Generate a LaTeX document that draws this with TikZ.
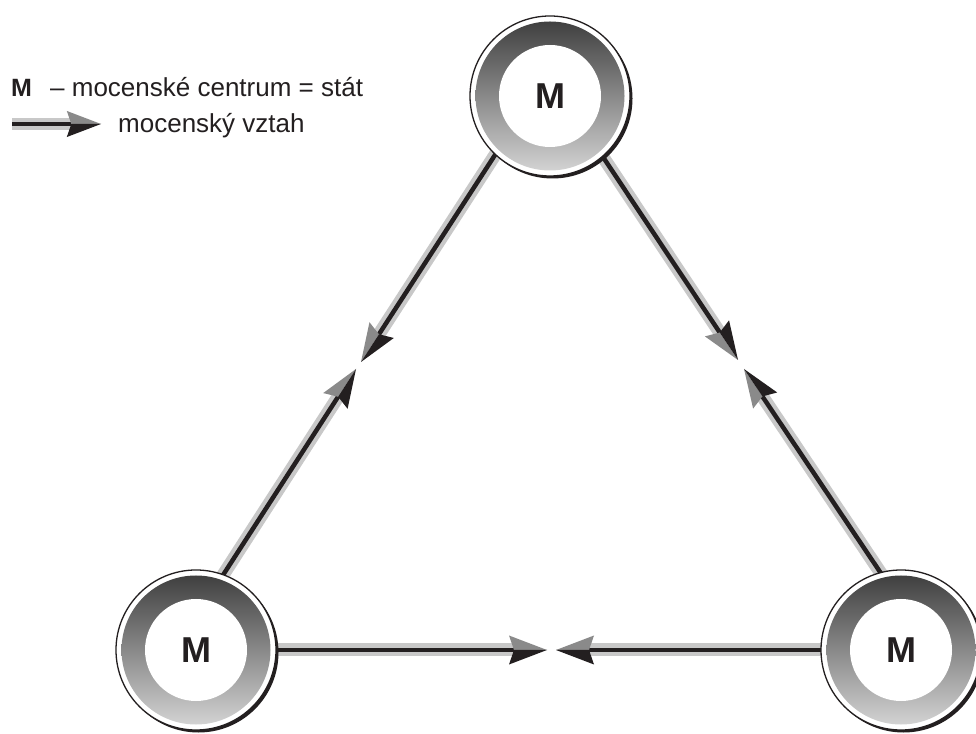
\documentclass[tikz,border=0pt]{standalone}
\usepackage{fontspec}
\setmainfont{Liberation Sans}
\usetikzlibrary{calc,shadows,backgrounds}
\definecolor{ink}{HTML}{231F20}
\definecolor{band}{HTML}{C8C8C8}
\definecolor{headgrey}{HTML}{8A8A8A}
\definecolor{ringtop}{HTML}{3A3A3A}
\definecolor{ringbot}{HTML}{D8D8D8}
% #1 start, #2 tip, #3 grey-side angle, #4 black-side angle, #5 size factor, #6 extension behind start (pt)
\newcommand\relarrow[6]{%
  \pgfmathsetmacro\hl{38*#5}%
  \pgfmathsetmacro\hn{33*#5}%
  \pgfmathsetmacro\hw{14.5*#5}%
  \pgfmathsetmacro\bw{13*#5}%
  \pgfmathsetmacro\lw{4.5*#5}%
  \coordinate (rb) at ($(#2)!\hl pt!(#1)$);
  \coordinate (rn) at ($(#2)!\hn pt!(#1)$);
  \coordinate (rg) at ($(rb)!\hw pt!#3:(#2)$);
  \coordinate (rk) at ($(rb)!\hw pt!#4:(#2)$);
  \draw[band, line width=\bw pt, shorten <=-#6pt] (#1) -- (rn);
  \draw[ink, line width=\lw pt, shorten <=-#6pt] (#1) -- (rn);
  \fill[headgrey] (rg) -- (#2) -- (rn) -- cycle;
  \fill[ink] (rk) -- (#2) -- (rn) -- cycle;
}
\tikzset{
  mnode/.style={circle, minimum size=160pt, inner sep=0pt, draw=ink, line width=1.3pt, fill=white,
    drop shadow={shadow xshift=2.5pt, shadow yshift=-2.5pt, opacity=1, fill=ink},
    path picture={
      \shade[top color=ringtop, bottom color=ringbot] (path picture bounding box.center) circle (74.5pt);
      \fill[white] (path picture bounding box.center) circle (51pt);
    },
    font=\bfseries\fontsize{36}{36}\selectfont, text=ink},
  legtext/.style={anchor=base west, inner sep=0pt, text=ink, font=\fontsize{26}{26}\selectfont}
}
\begin{document}
\begin{tikzpicture}[x=1pt, y=1pt]
\useasboundingbox (0,0) rectangle (976,733);
% nodes
\node[mnode] (T) at (550,637) {M};
\node[mnode] (L) at (196,83) {M};
\node[mnode] (R) at (901,83) {M};
% arrow tips
\coordinate (a1) at (361,371);
\coordinate (a2) at (356,364);
\coordinate (b1) at (738,373);
\coordinate (b2) at (744,364);
\coordinate (c1) at (547,83);
\coordinate (c2) at (556,83);
\begin{scope}[on background layer]
  \fill[white] (0,0) rectangle (976,733);
  \relarrow{T.227}{a1}{-90}{90}{1}{10}
  \relarrow{L.70.3}{a2}{90}{-90}{1}{10}
  \relarrow{T.311}{b1}{-90}{90}{1}{10}
  \relarrow{R.105.6}{b2}{90}{-90}{1}{10}
  \relarrow{L.east}{c1}{90}{-90}{1}{10}
  \relarrow{R.west}{c2}{-90}{90}{1}{10}
\end{scope}
% legend
\node[legtext, font=\bfseries\fontsize{25}{25}\selectfont] (lm) at (11,636) {M};
\node[legtext] (l1) at (50,636) {– mocenské centrum = stát};
\node[legtext] (l2) at (118,600) {mocenský vztah};
\coordinate (ls) at (12,609);
\coordinate (lt) at (101,609);
\relarrow{ls}{lt}{90}{-90}{0.9}{0}
\end{tikzpicture}
\end{document}
